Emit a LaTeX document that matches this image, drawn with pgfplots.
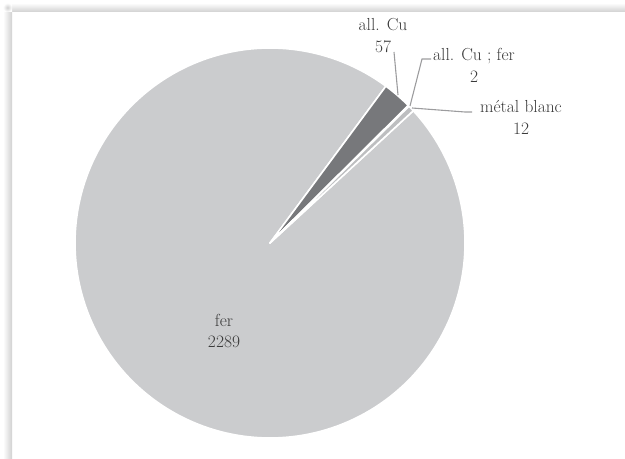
\documentclass[border=0pt]{standalone}
\usepackage{pgfplots}
\usepackage{pgfplotstable}
\pgfplotsset{compat=1.18}
\definecolor{fercol}{HTML}{CBCCCE}
\definecolor{cucol}{HTML}{77787B}
\definecolor{cufercol}{HTML}{4A4A4C}
\definecolor{mbcol}{HTML}{BDBEC0}
\definecolor{leadcol}{HTML}{9C9C9E}
\definecolor{txtcol}{HTML}{3A3A3A}

\pgfplotstableread{
label value
fer 2289
cu 57
cufer 2
mb 12
}\piedata

\begin{document}
\begin{tikzpicture}
\pgfplotstablegetelem{0}{value}\of\piedata \let\vA\pgfplotsretval
\pgfplotstablegetelem{1}{value}\of\piedata \let\vB\pgfplotsretval
\pgfplotstablegetelem{2}{value}\of\piedata \let\vC\pgfplotsretval
\pgfplotstablegetelem{3}{value}\of\piedata \let\vD\pgfplotsretval
\pgfmathsetmacro\tot{\vA+\vB+\vC+\vD}
\pgfmathsetmacro\sA{42.7}
\pgfmathsetmacro\eA{\sA-360*(\vA/\tot)}
\pgfmathsetmacro\eB{\eA-360*(\vB/\tot)}
\pgfmathsetmacro\eC{\eB-360*(\vC/\tot)}
\pgfmathsetmacro\eD{\eC-360*(\vD/\tot)}
\begin{axis}[width=625bp, height=459bp, scale only axis,
  xmin=0, xmax=625, ymin=0, ymax=459, hide axis, clip=false,
  every axis plot/.append style={draw=white, line width=1.6bp, line join=round}]
% background frame with shadow
\path (axis cs:0,0) rectangle (axis cs:625,459);
\shade[left color=white, right color=black!18] (axis cs:3,0) rectangle (axis cs:12,447);
\shade[top color=white, bottom color=black!18] (axis cs:12,447) rectangle (axis cs:625,456);
\shade[inner color=black!18, outer color=white] (axis cs:3,447) rectangle (axis cs:12,456);
% slices
\addplot[fill=fercol, domain=\eA:\sA, samples=200, variable=\t]
  ({270+195*cos(\t)}, {216+195*sin(\t)}) -- (axis cs:270,216) -- cycle;
\addplot[fill=cucol, domain=\eB:\eA, samples=20, variable=\t]
  ({270+195*cos(\t)}, {216+195*sin(\t)}) -- (axis cs:270,216) -- cycle;
\addplot[fill=cufercol, domain=\eC:\eB, samples=5, variable=\t]
  ({270+195*cos(\t)}, {216+195*sin(\t)}) -- (axis cs:270,216) -- cycle;
\addplot[fill=mbcol, domain=\eD:\eC, samples=8, variable=\t]
  ({270+195*cos(\t)}, {216+195*sin(\t)}) -- (axis cs:270,216) -- cycle;
% leader lines
\draw[leadcol, line width=1.1bp] (axis cs:394,407) -- (axis cs:398,364);
\draw[leadcol, line width=1.1bp] (axis cs:431,400) -- (axis cs:422,400) -- (axis cs:410,353);
\draw[leadcol, line width=1.1bp] (axis cs:412,351) -- (axis cs:465,347) -- (axis cs:472,347);
% labels
\begin{scope}[every node/.style={text=txtcol, align=center, font=\fontsize{17.5}{22}\selectfont, inner sep=0pt}]
\node at (axis cs:383,423) {all. Cu\\57};
\node at (axis cs:474,394) {all. Cu ; fer\\2};
\node at (axis cs:521,342) {métal blanc\\12};
\node at (axis cs:224,128) {fer\\2289};
\end{scope}
\end{axis}
\end{tikzpicture}
\end{document}
